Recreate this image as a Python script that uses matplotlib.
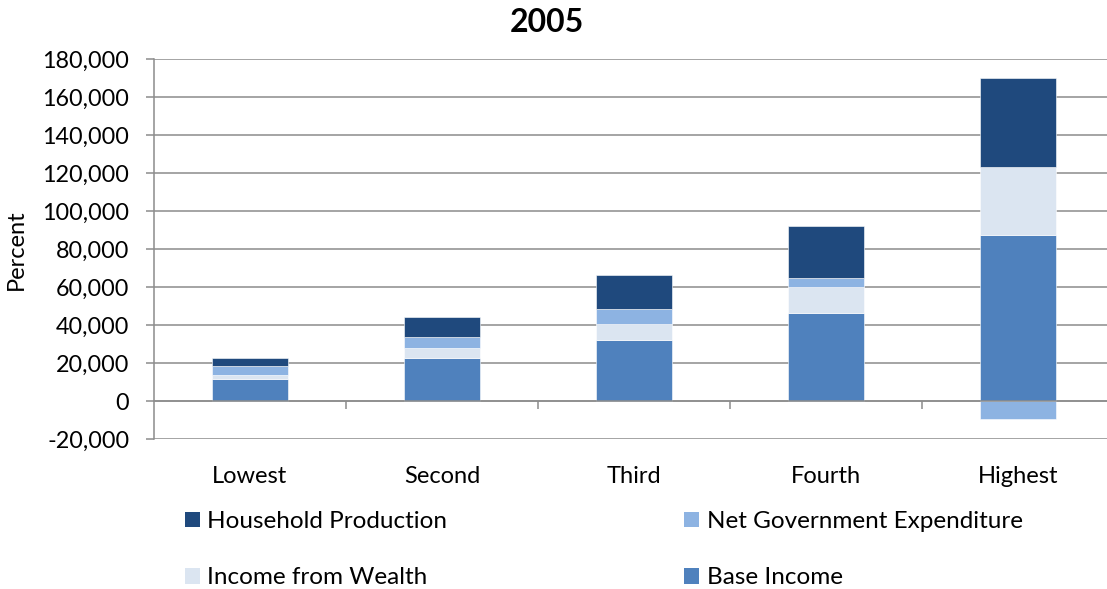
import matplotlib
matplotlib.use("Agg")
import matplotlib.pyplot as plt
from matplotlib.patches import Patch
from matplotlib.ticker import FuncFormatter, FixedLocator
import numpy as np

plt.rcParams['font.family'] = ['Lato', 'DejaVu Sans']

categories = ["Lowest", "Second", "Third", "Fourth", "Highest"]
base_income = [11800, 22500, 32000, 46200, 87400]
income_from_wealth = [2100, 5300, 8600, 13700, 36000]
net_gov_expenditure = [4400, 6100, 7700, 4700, -9600]
household_production = [4400, 10500, 18100, 27400, 46500]

series = [
    ("Base Income", base_income, "#4F81BD"),
    ("Income from Wealth", income_from_wealth, "#DBE5F1"),
    ("Net Government Expenditure", net_gov_expenditure, "#8DB3E2"),
    ("Household Production", household_production, "#1F497D"),
]

W, H = 1107, 589
fig = plt.figure(figsize=(W / 100, H / 100), dpi=100)
ax = fig.add_axes([154 / W, 1 - 439 / H, (W - 154) / W, 380 / H])

x = np.arange(len(categories))
pos_bottom = np.zeros(len(categories))
neg_bottom = np.zeros(len(categories))
handles = {}
for name, vals, color in series:
    v = np.array(vals, dtype=float)
    bottom = np.where(v >= 0, pos_bottom, neg_bottom)
    ax.bar(x, v, width=0.4, bottom=bottom, color=color,
           edgecolor="#ffffff", linewidth=0.4, zorder=3)
    handles[name] = Patch(facecolor=color)
    pos_bottom += np.where(v >= 0, v, 0)
    neg_bottom += np.where(v < 0, v, 0)

ax.set_ylim(-20000, 180000)
ax.set_xlim(-0.5, -0.5 + (W - 154) / 192)
ax.yaxis.set_major_locator(FixedLocator(np.arange(-20000, 180001, 20000)))
ax.yaxis.set_major_formatter(FuncFormatter(lambda v, p: f"{int(v):,}"))
ax.grid(axis="y", color="#8c8c8c", linewidth=1.1, zorder=0)

for s in ["top", "right"]:
    ax.spines[s].set_visible(False)
ax.spines["left"].set_color("#8c8c8c")
ax.spines["left"].set_linewidth(1.1)
ax.spines["bottom"].set_position(("data", 0))
ax.spines["bottom"].set_color("#8c8c8c")
ax.spines["bottom"].set_linewidth(1.1)
ax.spines["bottom"].set_zorder(4)

ax.set_xticks(x)
ax.set_xticklabels(categories)
ax.set_xticks(np.arange(0.5, len(categories) - 0.5, 1), minor=True)
ax.tick_params(axis="x", which="major", length=0, pad=46.5, labelsize=17)
ax.tick_params(axis="x", which="minor", length=6, width=1.1, color="#8c8c8c", direction="out")
ax.tick_params(axis="y", length=5.8, width=1.1, color="#8c8c8c", labelsize=16.8, pad=12)

fig.text(16 / W, 1 - 250 / H, "Percent", rotation=90, ha="center", va="center",
         fontsize=17)

fig.text(547 / W, 1 - 22 / H, "2005", ha="center", va="center",
         fontsize=23, fontweight="bold")

order = ["Household Production", "Income from Wealth",
         "Net Government Expenditure", "Base Income"]
fig.legend([handles[n] for n in order], order, ncol=2, frameon=False,
           loc="upper left", bbox_to_anchor=(185 / W, 1 - 511 / H),
           borderaxespad=0, borderpad=0,
           handlelength=0.62, handleheight=0.62, handletextpad=0.3,
           columnspacing=9.75, labelspacing=1.45, fontsize=17.5)

fig.savefig("out.png", dpi=100)
